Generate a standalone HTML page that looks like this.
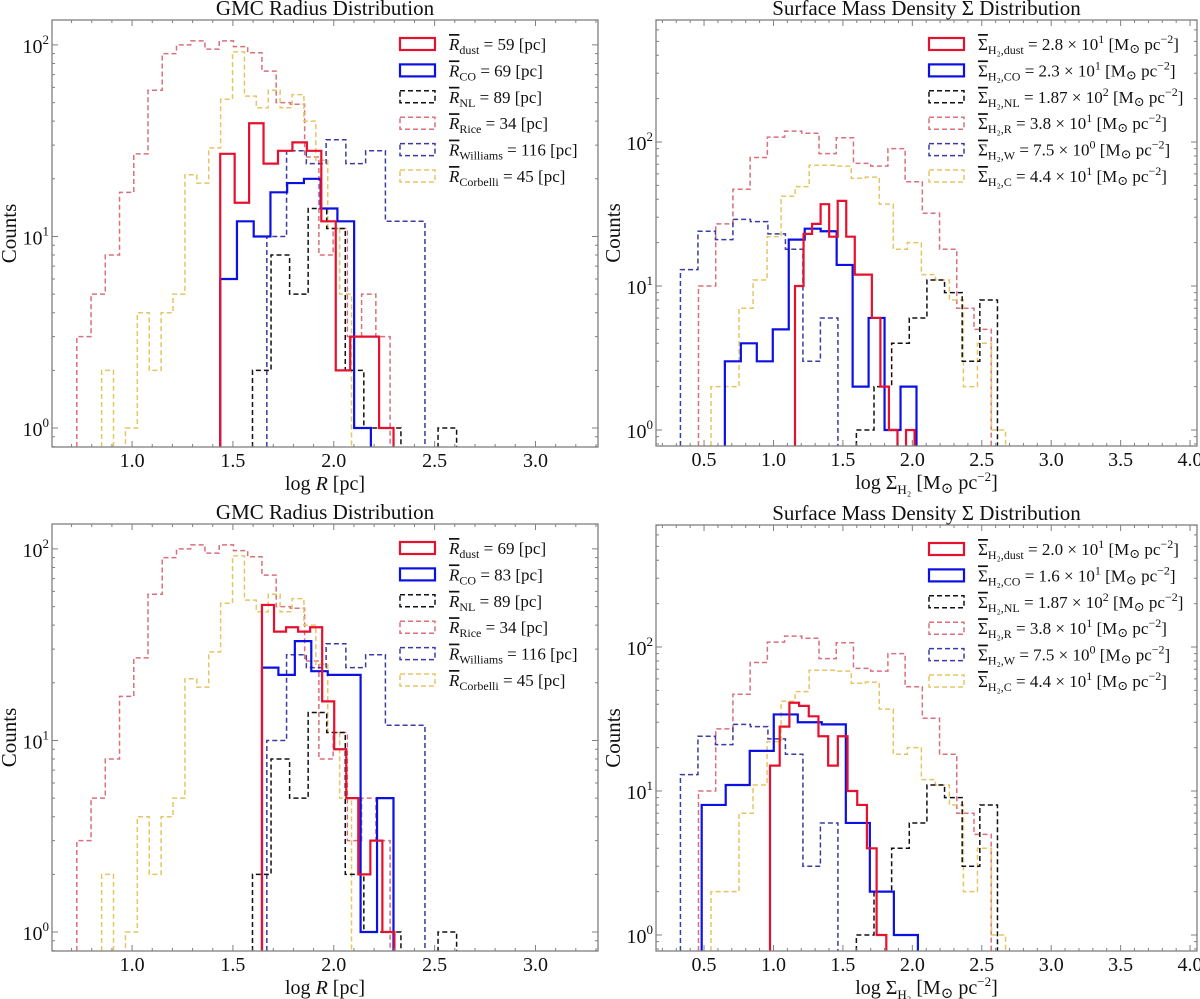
<!DOCTYPE html>
<html><head><meta charset="utf-8"><style>
html,body{margin:0;padding:0;background:#fff;}
svg{display:block;font-family:"Liberation Serif","DejaVu Serif",serif;}
</style></head>
<body>
<svg id="fig" width="1200" height="999" viewBox="0 0 1200 999" xmlns="http://www.w3.org/2000/svg"></svg>
<script>
// ---- data: top-left radius histograms (bin start, bin width, counts) ----
const riceRStart = 0.726, riceRWidth = 0.0706;
const riceRCounts = [3,5,8,17,27,58,90,100,105,95,105,98,91,73,50,49,26,8,11,3,5,3];
const corbRStart = 0.849, corbRWidth = 0.059;
const corbRCounts = [2,0,1,4,2,4,5,21,19,29,52,92,54,47,58,47,55,40,25,11,5];
const willRStart = 1.668, willRWidth = 0.098;
const willRCounts = [10,28,24,32,24,28,12,12];
const nlRStart = 1.597, nlRWidth = 0.092;
const nlRCounts = [2,8,5,14,11,2,1,1,0,0,1];
const dustRTopStart = 1.437, dustRTopWidth = 0.0716;
const dustRTopCounts = [27,15,39,24,28,31,28,12,2,3,3,1];
const coRTopStart = 1.437, coRTopWidth = 0.083;
const coRTopCounts = [6,12,10,17,19,20,14,12,1];
const dustRBotStart = 1.644, dustRBotWidth = 0.0597;
const dustRBotCounts = [51,37,39,37,39,16,9,5,2,3,1];
const coRBotStart = 1.644, coRBotWidth = 0.0815;
const coRBotCounts = [24,22,33,23,22,22,1,5];
// ---- surface density histograms ----
const willSStart = 0.33, willSWidth = 0.126;
const willSCounts = [13,24,21,29,28,23,18,3,6];
const riceSStart = 0.46, riceSWidth = 0.124;
const riceSCounts = [10,27,47,78,108,119,115,83,107,71,68,90,53,32,18,7,5];
const corbSStart = 0.55, corbSWidth = 0.101;
const corbSCounts = [2,2,7,11,22,42,49,69,69,68,56,57,37,18,20,12,11,8,2,4,1];
const nlSStart = 1.597, nlSWidth = 0.127;
const nlSCounts = [1,2,4,6,11,9,3,8];
const dustSTopStart = 1.155, dustSTopWidth = 0.0615;
const dustSTopCounts = [10,23,27,37,22,39,22,12,12,6,2,1,0,1];
const coSTopStart = 0.65, coSTopWidth = 0.115;
const coSTopCounts = [3,4,3,5,21,25,24,14,2,6,1,2];
const dustSBotStart = 0.975, dustSBotWidth = 0.0698;
const dustSBotCounts = [15,28,41,39,33,24,15,24,10,8,4,1];
const coSBotStart = 0.483, coSBotWidth = 0.173;
const coSBotCounts = [8,11,19,34,30,29,6,2,1];
// ---- ticks ----
const radiusTicks = [1.0,1.5,2.0,2.5,3.0];
const radiusTickLabels = ["1.0","1.5","2.0","2.5","3.0"];
const sigmaTicks = [0.5,1.0,1.5,2.0,2.5,3.0,3.5,4.0];
const sigmaTickLabels = ["0.5","1.0","1.5","2.0","2.5","3.0","3.5","4.0"];
const yDecades = [0,1,2];
const legendRTop = ["59","69","89","34","116","45"];
const legendRBot = ["69","83","89","34","116","45"];
const legendSTop = [["2.8","1"],["2.3","1"],["1.87","2"],["3.8","1"],["7.5","0"],["4.4","1"]];
const legendSBot = [["2.0","1"],["1.6","1"],["1.87","2"],["3.8","1"],["7.5","0"],["4.4","1"]];

const NS = "http://www.w3.org/2000/svg";
const fig = document.getElementById("fig");
function el(tag, attrs, parent){
  const e = document.createElementNS(NS, tag);
  for (const k in attrs) e.setAttribute(k, attrs[k]);
  (parent||fig).appendChild(e);
  return e;
}
const RED="#e5112e", BLUE="#0b10e3", PINK="#d8707f", NAVY="#3b3ba0", YEL="#e5c565", BLK="#111";

const panels = [
  {id:"tl", L:52, R:598, T:20, B:447, x0:0.603, x1:3.31, y0:-0.099, y1:2.13, kind:"r", title:"GMC Radius Distribution"},
  {id:"tr", L:656, R:1197, T:20, B:446, x0:0.154, x1:4.05, y0:-0.111, y1:2.847, kind:"s", title:"Surface Mass Density \u03A3 Distribution"},
  {id:"bl", L:52, R:598, T:524, B:951, x0:0.603, x1:3.31, y0:-0.099, y1:2.13, kind:"r", title:"GMC Radius Distribution"},
  {id:"br", L:656, R:1197, T:525, B:951, x0:0.154, x1:4.05, y0:-0.111, y1:2.847, kind:"s", title:"Surface Mass Density \u03A3 Distribution"}
];

function drawPanel(p, series, legendVals){
  const sx = v => p.L + (v - p.x0) / (p.x1 - p.x0) * (p.R - p.L);
  const sy = lv => p.B - (lv - p.y0) / (p.y1 - p.y0) * (p.B - p.T);
  const g = el("g", {});
  
  
  const cp = el("clipPath", {id:"clip-"+p.id}, g);
  el("rect", {x:p.L, y:p.T, width:p.R-p.L, height:p.B-p.T}, cp);
  const t = el("text", {x:(p.L+p.R)/2, y:p.T-5, "text-anchor":"middle", "font-size":"21", fill:"#111"}, g);
  t.textContent = p.title;
  
  
  const sg = el("g", {"clip-path":"url(#clip-"+p.id+")"}, g);
  series.forEach(s => {
    let d = "M" + sx(s.start) + "," + p.B;
    for (let i=0;i<s.counts.length;i++){
      const c = s.counts[i];
      const y = c > 0 ? sy(Math.log10(c)) : p.B + 2;
      d += " L" + sx(s.start + i*s.width) + "," + y + " L" + sx(s.start + (i+1)*s.width) + "," + y;
    }
    d += " L" + sx(s.start + s.counts.length*s.width) + "," + (p.B+2);
    const path = el("path", {d:d, fill:"none", stroke:s.color, "stroke-width":s.dash?1.5:2.2, "stroke-dasharray":s.dash?"5,3":"none"}, sg);
    
    
  });
  const fr = el("rect", {x:p.L, y:p.T, width:p.R-p.L, height:p.B-p.T, fill:"none", stroke:"#808080", "stroke-width":1.3}, g);
  
  
  const ticks = p.kind==="r" ? radiusTicks : sigmaTicks;
  const labs = p.kind==="r" ? radiusTickLabels : sigmaTickLabels;
  let tk = "";
  for (let v=Math.ceil(p.x0*10)/10; v<=p.x1; v+=0.1){
    const X = sx(v);
    tk += "M"+X+","+p.B+" v-3 M"+X+","+p.T+" v3 ";
  }
  ticks.forEach((v,i)=>{
    const X = sx(v);
    tk += "M"+X+","+p.B+" v-6 M"+X+","+p.T+" v6 ";
    const tl = el("text", {x:X, y:p.B+20, "text-anchor":"middle", "font-size":"20", fill:"#111"}, g);
    tl.textContent = labs[i];
    
    
  });
  for (let d=-1; d<=2; d++){
    for (let k=2;k<=9;k++){
      const lv = d + Math.log10(k);
      if (lv>p.y0 && lv<p.y1){ const Y=sy(lv); tk += "M"+p.L+","+Y+" h3 M"+p.R+","+Y+" h-3 "; }
    }
  }
  yDecades.forEach(dv=>{
    const Y = sy(dv);
    tk += "M"+p.L+","+Y+" h6 M"+p.R+","+Y+" h-6 ";
    const yl = el("text", {x:p.L-3, y:Y+8, "text-anchor":"end", "font-size":"20", fill:"#111"}, g);
    yl.innerHTML = '10<tspan dy="-9" font-size="13">'+dv+'</tspan>';
    
    
  });
  el("path", {d:tk, stroke:"#808080", "stroke-width":1, fill:"none"}, g);
  const yt = el("text", {x:0, y:0, "text-anchor":"middle", "font-size":"21", fill:"#111", transform:"translate("+(p.L-36)+","+((p.T+p.B)/2)+") rotate(-90)"}, g);
  yt.textContent = "Counts";
  
  
  const xt = el("text", {x:(p.L+p.R)/2, y:p.B+43, "text-anchor":"middle", "font-size":"20", fill:"#111"}, g);
  if (p.kind==="r") xt.innerHTML = 'log <tspan font-style="italic">R</tspan> [pc]';
  else xt.innerHTML = 'log \u03A3<tspan dy="5" font-size="13">H\u2082</tspan><tspan dy="-5"> [M</tspan><tspan dy="4" font-size="15">\u2299</tspan><tspan dy="-4"> pc</tspan><tspan dy="-8" font-size="13">\u22122</tspan><tspan dy="8">]</tspan>';
  
  
  const hx = p.kind==="r" ? 400 : 929, tx = p.kind==="r" ? 449 : 978;
  const subsR = ["dust","CO","NL","Rice","Williams","Corbelli"];
  const subsS = ["dust","CO","NL","R","W","C"];
  series.slice().sort((a,b)=>a.leg-b.leg).forEach(s=>{
    const i = s.leg;
    const cy = p.T + 24 + 26.4*i;
    const r = el("rect", {x:hx, y:cy-6, width:35, height:12, fill:"none", stroke:s.color, "stroke-width":s.dash?1.5:2.2, "stroke-dasharray":s.dash?"5,3":"none"}, g);
    
    
    const lt = el("text", {x:tx, y:cy+6, "font-size":"17", fill:"#111"}, g);
    if (p.kind==="r") {
      lt.innerHTML = '<tspan font-style="italic" text-decoration="overline">R</tspan><tspan dy="4" font-size="12">'+subsR[i]+'</tspan><tspan dy="-4"> = '+legendVals[i]+' [pc]</tspan>';
    } else {
      const v = legendVals[i];
      lt.innerHTML = '<tspan text-decoration="overline">\u03A3</tspan><tspan dy="4" font-size="12">H\u2082,'+subsS[i]+'</tspan><tspan dy="-4"> = '+v[0]+' \u00D7 10</tspan><tspan dy="-7" font-size="12">'+v[1]+'</tspan><tspan dy="7"> [M</tspan><tspan dy="3" font-size="13">\u2299</tspan><tspan dy="-3"> pc</tspan><tspan dy="-7" font-size="12">\u22122</tspan><tspan dy="7">]</tspan>';
    }
    
    
  });
}

const rCommon = [
  {name:"hist-rice", start:riceRStart, width:riceRWidth, counts:riceRCounts, color:PINK, dash:true, leg:3},
  {name:"hist-corbelli", start:corbRStart, width:corbRWidth, counts:corbRCounts, color:YEL, dash:true, leg:5},
  {name:"hist-williams", start:willRStart, width:willRWidth, counts:willRCounts, color:NAVY, dash:true, leg:4},
  {name:"hist-nl", start:nlRStart, width:nlRWidth, counts:nlRCounts, color:BLK, dash:true, leg:2}
];
const sCommon = [
  {name:"hist-rice", start:riceSStart, width:riceSWidth, counts:riceSCounts, color:PINK, dash:true, leg:3},
  {name:"hist-corbelli", start:corbSStart, width:corbSWidth, counts:corbSCounts, color:YEL, dash:true, leg:5},
  {name:"hist-williams", start:willSStart, width:willSWidth, counts:willSCounts, color:NAVY, dash:true, leg:4},
  {name:"hist-nl", start:nlSStart, width:nlSWidth, counts:nlSCounts, color:BLK, dash:true, leg:2}
];
drawPanel(panels[0], rCommon.concat([
  {name:"hist-co", start:coRTopStart, width:coRTopWidth, counts:coRTopCounts, color:BLUE, dash:false, leg:1},
  {name:"hist-dust", start:dustRTopStart, width:dustRTopWidth, counts:dustRTopCounts, color:RED, dash:false, leg:0}
]), legendRTop);
drawPanel(panels[1], sCommon.concat([
  {name:"hist-co", start:coSTopStart, width:coSTopWidth, counts:coSTopCounts, color:BLUE, dash:false, leg:1},
  {name:"hist-dust", start:dustSTopStart, width:dustSTopWidth, counts:dustSTopCounts, color:RED, dash:false, leg:0}
]), legendSTop);
drawPanel(panels[2], rCommon.concat([
  {name:"hist-co", start:coRBotStart, width:coRBotWidth, counts:coRBotCounts, color:BLUE, dash:false, leg:1},
  {name:"hist-dust", start:dustRBotStart, width:dustRBotWidth, counts:dustRBotCounts, color:RED, dash:false, leg:0}
]), legendRBot);
drawPanel(panels[3], sCommon.concat([
  {name:"hist-co", start:coSBotStart, width:coSBotWidth, counts:coSBotCounts, color:BLUE, dash:false, leg:1},
  {name:"hist-dust", start:dustSBotStart, width:dustSBotWidth, counts:dustSBotCounts, color:RED, dash:false, leg:0}
]), legendSBot);
</script>
</body></html>
